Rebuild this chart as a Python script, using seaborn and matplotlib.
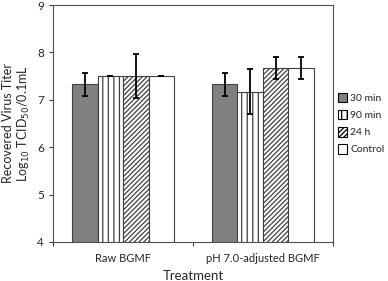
import matplotlib
matplotlib.use("Agg")
import matplotlib.pyplot as plt
from matplotlib.patches import Patch
import seaborn as sns
import pandas as pd
import numpy as np

# data
treatments = ["Raw BGMF", "pH 7.0-adjusted BGMF"]
times = ["30 min", "90 min", "24 h", "Control"]
raw_mean = [7.33, 7.50, 7.50, 7.50]
raw_err = [0.24, 0.0, 0.47, 0.0]
ph_mean = [7.33, 7.17, 7.67, 7.67]
ph_err = [0.24, 0.47, 0.23, 0.23]

df = pd.DataFrame({
    "treatment": np.repeat(treatments, len(times)),
    "time": times * 2,
    "titer": raw_mean + ph_mean,
    "err": raw_err + ph_err,
})

sns.set_style("white")
plt.rcParams['font.family'] = ['Lato', 'DejaVu Sans']
plt.rcParams['hatch.linewidth'] = 0.9

fig = plt.figure(figsize=(3.88, 2.81), dpi=100)
ax = fig.add_axes([0.137, 0.139, 0.721, 0.843])

face = {"30 min": "#808080", "90 min": "white", "24 h": "white", "Control": "white"}
hatch = {"30 min": "", "90 min": "|||", "24 h": "///////", "Control": ""}

sns.barplot(df, x="treatment", y="titer", hue="time", order=treatments, hue_order=times,
            palette=face, errorbar=None, width=0.73, gap=0, edgecolor="#404040",
            linewidth=0.8, legend=False, ax=ax)

# style bars and add error bars (patches ordered by hue, then treatment)
for i, t in enumerate(times):
    for j, tr in enumerate(treatments):
        p = ax.patches[i * len(treatments) + j]
        p.set_hatch(hatch[t])
        row = df[(df.treatment == tr) & (df.time == t)].iloc[0]
        ax.errorbar(p.get_x() + p.get_width() / 2, row.titer, yerr=row.err,
                    fmt="none", ecolor="black", elinewidth=1.3, capsize=2.5, capthick=1.3)

ax.set_ylim(4, 9)
ax.set_xlim(-0.5, 1.5)
ax.set_yticks([4, 5, 6, 7, 8, 9])
ax.set_xticks([-0.5, 0.5, 1.5])
ax.set_xticklabels([])
ax.set_xticks([0, 1], minor=True)
ax.set_xticklabels(treatments, minor=True, fontsize=8)
ax.tick_params(axis="x", which="minor", length=0, pad=8)
ax.tick_params(axis="x", which="major", length=3, direction="out", color="#404040", bottom=True)
ax.tick_params(axis="y", length=3, direction="out", color="#404040", left=True, labelsize=8.5)
for s in ax.spines.values():
    s.set_color("#505050")
    s.set_linewidth(0.8)

ax.set_xlabel("Treatment", fontsize=9.5, labelpad=4)
ax.set_ylabel("Recovered Virus Titer\nLog$_{10}$ TCID$_{50}$/0.1mL", fontsize=9, labelpad=4,
              linespacing=1.1)

handles = [Patch(facecolor=face[t], hatch=hatch[t], edgecolor="black", linewidth=0.8, label=t)
           for t in times]
ax.legend(handles=handles, loc="center left", bbox_to_anchor=(1.0, 0.50), frameon=False,
          fontsize=7.5, handlelength=0.9, handleheight=1.05, handletextpad=0.25, labelspacing=0.65,
          borderaxespad=0.4, borderpad=0.1)

fig.savefig("out.png", dpi=100)
